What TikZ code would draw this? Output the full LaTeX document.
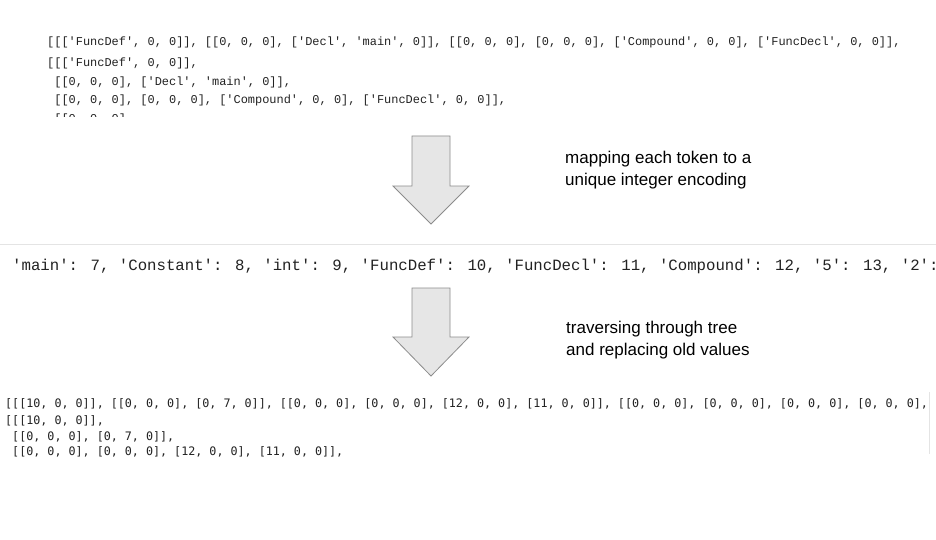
\documentclass[tikz,border=0pt]{standalone}
\usepackage{fontspec}
\setmainfont{Liberation Sans}
\newfontfamily\courfont{Liberation Mono}[Ligatures=TeXOff]
\newfontfamily\dejamono{DejaVu Sans Mono}[Ligatures=TeXOff]
\definecolor{arrowfill}{HTML}{E6E6E6}
\definecolor{arrowline}{HTML}{8C8C8C}
\definecolor{edgegray}{HTML}{E4E4E4}
\definecolor{codeink}{HTML}{222222}
\tikzset{
  codetop/.style={anchor=west, inner sep=0pt, text=codeink, font=\courfont\fontsize{11.95}{19}\selectfont},
  codemid/.style={anchor=west, inner sep=0pt, text=codeink, font=\courfont\fontsize{15.7}{19}\selectfont},
  codebot/.style={anchor=west, inner sep=0pt, text=codeink, font=\dejamono\fontsize{11.7}{16}\selectfont},
  caption/.style={anchor=west, inner sep=0pt, align=left, text=black, font=\fontsize{17}{22}\selectfont},
  blockarrow/.style={fill=arrowfill, draw=arrowline, line width=0.8pt, line join=miter},
  screenedge/.style={draw=edgegray, line width=0.8pt}
}
\begin{document}
\begin{tikzpicture}[x=1pt,y=-1pt]
\useasboundingbox (0,0) rectangle (936,540);
\fill[white] (0,0) rectangle (936,540);

% top block
\node[codetop] (t1) at (47,42) {[[['FuncDef', 0, 0]], [[0, 0, 0], ['Decl', 'main', 0]], [[0, 0, 0], [0, 0, 0], ['Compound', 0, 0], ['FuncDecl', 0, 0]],};
\node[codetop] (t2) at (47,63) {[[['FuncDef', 0, 0]],};
\node[codetop] (t3) at (47,82) {\ [[0, 0, 0], ['Decl', 'main', 0]],};
\node[codetop] (t4) at (47,100) {\ [[0, 0, 0], [0, 0, 0], ['Compound', 0, 0], ['FuncDecl', 0, 0]],};
\begin{scope}
  \clip (40,105) rectangle (200,116.5);
  \node[codetop] (t5) at (47,119) {\ [[0, 0, 0],};
\end{scope}

% arrow 1
\draw[blockarrow] (412,136) -- (450,136) -- (450,186) -- (469,186) -- (431,224) -- (393,186) -- (412,186) -- cycle;
\node[caption] (c1) at (565,170) {mapping each token to a\\unique integer encoding};

% middle line
\draw[screenedge] (0,244) -- (936,244);
\begin{scope}
  \clip (0,250) rectangle (936,285);
  \node[codemid] (m1) at (12,266) {'main': 7, 'Constant': 8, 'int': 9, 'FuncDef': 10, 'FuncDecl': 11, 'Compound': 12, '5': 13, '2':};
\end{scope}

% arrow 2
\draw[blockarrow] (412,288) -- (450,288) -- (450,337) -- (469,337) -- (431,376) -- (393,337) -- (412,337) -- cycle;
\node[caption] (c2) at (566,340) {traversing through tree\\and replacing old values};

% bottom block
\node[codebot] (b1) at (5,404) {[[[10, 0, 0]], [[0, 0, 0], [0, 7, 0]], [[0, 0, 0], [0, 0, 0], [12, 0, 0], [11, 0, 0]], [[0, 0, 0], [0, 0, 0], [0, 0, 0], [0, 0, 0],};
\node[codebot] (b2) at (5,421) {[[[10, 0, 0]],};
\node[codebot] (b3) at (5,437) {\ [[0, 0, 0], [0, 7, 0]],};
\node[codebot] (b4) at (5,452) {\ [[0, 0, 0], [0, 0, 0], [12, 0, 0], [11, 0, 0]],};
\draw[screenedge] (929,392) -- (929,454);
\end{tikzpicture}
\end{document}
